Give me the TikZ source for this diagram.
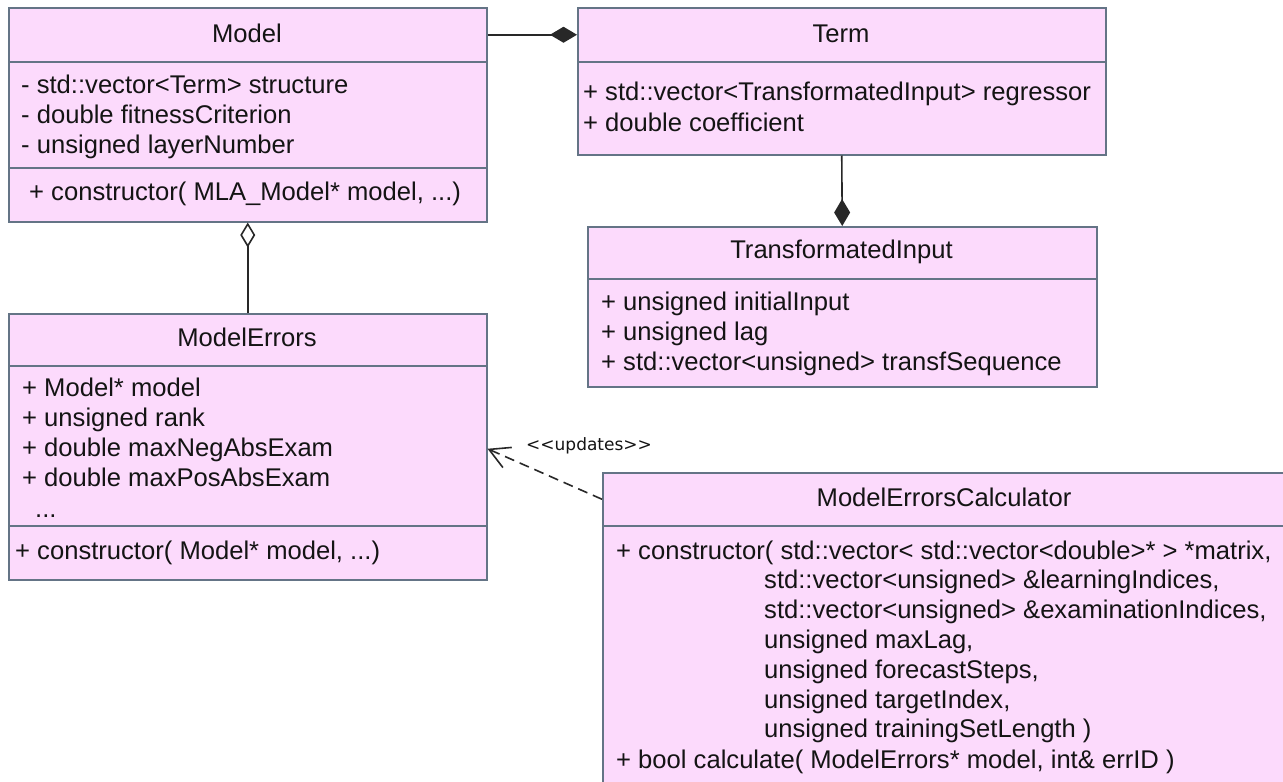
\documentclass[tikz,border=0pt]{standalone}
\usepackage{fontspec}
\setmainfont{Liberation Sans}
\newfontfamily\stereofont{DejaVu Sans}
\usetikzlibrary{arrows.meta}

\definecolor{classfill}{RGB}{252,218,252}
\definecolor{classline}{RGB}{100,116,134}
\definecolor{linkcol}{RGB}{40,40,40}
\definecolor{textcol}{RGB}{20,20,20}

\tikzset{
  part/.style={draw=classline, fill=classfill, line width=1.5pt, rectangle,
    inner sep=0pt, anchor=north west},
  classname/.style={anchor=base, inner sep=0pt, text=textcol,
    font=\fontsize{25.6}{30}\selectfont},
  member/.style={anchor=base west, inner sep=0pt, text=textcol,
    font=\fontsize{25.6}{30}\selectfont},
  stereo/.style={anchor=base west, inner sep=0pt, text=textcol,
    font=\stereofont\fontsize{17}{20}\selectfont},
  link/.style={draw=linkcol, line width=1.6pt},
  composite/.style={link, -{Diamond[length=27pt,width=16pt]}},
  aggregate/.style={link, -{Diamond[open,length=25pt,width=15pt]}},
  depends/.style={link, dash pattern=on 10pt off 6pt,
    -{Straight Barb[length=20pt,width=22pt]}},
}

\begin{document}
\begin{tikzpicture}[x=1pt,y=-1pt]
  \fill[white] (0,0) rectangle (1283,782);
  \useasboundingbox (0,0) rectangle (1283,782);

  % Model
  \node[part, minimum width=478pt, minimum height=54pt]  (modelT) at (8,7) {};
  \node[part, minimum width=478pt, minimum height=106pt] (modelA) at (8,61) {};
  \node[part, minimum width=478pt, minimum height=54pt]  (modelM) at (8,167) {};
  \node[classname] (modelN) at (247,42) {Model};
  \foreach \txt [count=\i] in {{- std::vector<Term> structure},
      {- double fitnessCriterion}, {- unsigned layerNumber}}
    \node[member] (modelA\i) at (21,{93+30*(\i-1)}) {\txt};
  \node[member] (modelM1) at (29,200) {+ constructor( MLA\_Model* model, ...)};

  % Term
  \node[part, minimum width=528pt, minimum height=54pt] (termT) at (577,7) {};
  \node[part, minimum width=528pt, minimum height=93pt] (termA) at (577,61) {};
  \node[classname] (termN) at (841,42) {Term};
  \foreach \txt [count=\i] in {{+ std::vector<TransformatedInput> regressor},
      {+ double coefficient}}
    \node[member] (termA\i) at (583,{100+31*(\i-1)}) {\txt};

  % TransformatedInput
  \node[part, minimum width=509pt, minimum height=52pt]  (tiT) at (587,226) {};
  \node[part, minimum width=509pt, minimum height=108pt] (tiA) at (587,278) {};
  \node[classname] (tiN) at (841.5,258) {TransformatedInput};
  \foreach \txt [count=\i] in {{+ unsigned initialInput}, {+ unsigned lag},
      {+ std::vector<unsigned> transfSequence}}
    \node[member] (tiA\i) at (601,{310+30*(\i-1)}) {\txt};

  % ModelErrors
  \node[part, minimum width=478pt, minimum height=52pt]  (meT) at (8,313) {};
  \node[part, minimum width=478pt, minimum height=160pt] (meA) at (8,365) {};
  \node[part, minimum width=478pt, minimum height=54pt]  (meM) at (8,525) {};
  \node[classname] (meN) at (247,346) {ModelErrors};
  \foreach \txt [count=\i] in {{+ Model* model}, {+ unsigned rank},
      {+ double maxNegAbsExam}, {+ double maxPosAbsExam}}
    \node[member] (meA\i) at (22,{396+30*(\i-1)}) {\txt};
  \node[member] (meA5) at (35,517) {...};
  \node[member] (meM1) at (15,559) {+ constructor( Model* model, ...)};

  % ModelErrorsCalculator
  \node[part, minimum width=684pt, minimum height=53pt]  (calcT) at (602,472) {};
  \node[part, minimum width=684pt, minimum height=300pt] (calcM) at (602,525) {};
  \node[classname] (calcN) at (944,506) {ModelErrorsCalculator};
  \node[member] (calcM1) at (616,559)
    {+ constructor( std::vector< std::vector<double>* > *matrix,};
  \foreach \txt [count=\i from 2] in {{std::vector<unsigned> \&learningIndices,},
      {std::vector<unsigned> \&examinationIndices,}, {unsigned maxLag,},
      {unsigned forecastSteps,}, {unsigned targetIndex,},
      {unsigned trainingSetLength )}}
    \node[member] (calcM\i) at (764,{559+29.8*(\i-1)}) {\txt};
  \node[member] (calcM8) at (616,768)
    {+ bool calculate( ModelErrors* model, int\& errID )};

  % Relations
  \draw[composite] (modelT.east) -- (termT.west);
  \draw[composite] (termA.south) -- (tiT.north);
  \draw[aggregate] (meT.north) -- (modelM.south);
  \draw[depends] (calcT.west) -- ([yshift=-3pt]meA.east);
  \node[stereo] (updates) at (526,450) {<<updates>>};
\end{tikzpicture}
\end{document}
